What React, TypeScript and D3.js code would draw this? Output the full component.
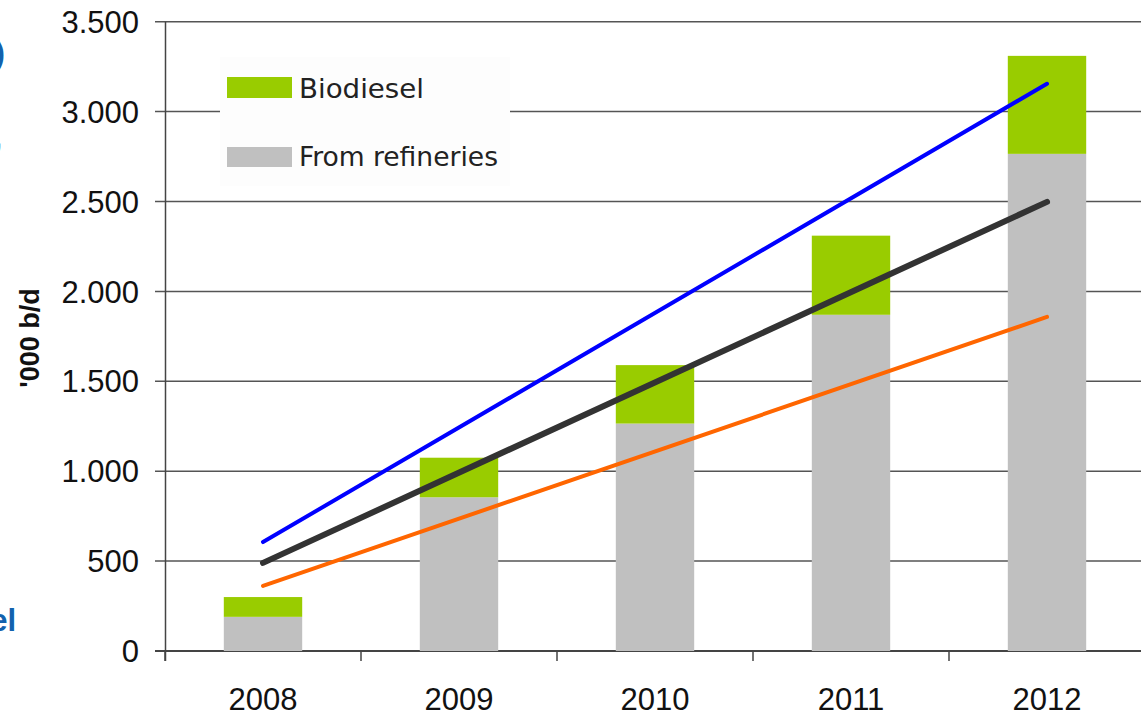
import React from "react";
import * as d3 from "d3";

const years = ["2008", "2009", "2010", "2011", "2012"];
const refineries = [190, 855, 1265, 1870, 2765];
const biodiesel = [110, 220, 325, 440, 545];
const yTicks = [0, 500, 1000, 1500, 2000, 2500, 3000, 3500];
const trendYears = ["2008", "2012"];
const trendBlue = [606, 3155];
const trendBlack = [490, 2498];
const trendOrange = [362, 1858];

const W = 1141;
const H = 714;

export default function App() {
  const x = d3.scaleBand<string>().domain(years).range([165, 1145]).paddingInner(0.6).paddingOuter(0.3);
  const y = d3.scaleLinear().domain([0, 3500]).range([651, 21.7]);
  const step = x.step();
  const boundaries = years.map((yr) => (x(yr) as number) - x.paddingOuter() * step);
  const fmt = (v: number) => d3.format(",")(v).replace(/,/g, ".");
  const cx = (yr: string) => (x(yr) as number) + x.bandwidth() / 2;
  const lineGen = d3
    .line<[string, number]>()
    .x((d) => cx(d[0]))
    .y((d) => y(d[1]));
  const trends = [
    { vals: trendOrange, color: "#FF6600", w: 4 },
    { vals: trendBlack, color: "#333333", w: 6 },
    { vals: trendBlue, color: "#0000FF", w: 4 },
  ];
  return (
    <div style={{ position: "absolute", left: 0, top: 0 }}>
      <svg width={W} height={H} style={{ display: "block", background: "#fff" }}>
        {/* cut-off text from slide */}
        <g fill="#1262AE" fontFamily="Liberation Sans, Arial, sans-serif" fontWeight="bold">
          <text x={5} y={64} fontSize={34} textAnchor="end">)</text>
          <text x={2} y={148} fontSize={30} textAnchor="end">,</text>
          <text x={16} y={631} fontSize={31} textAnchor="end">el</text>
        </g>
        {/* grid */}
        {yTicks.map((t) => (
          <line key={t} x1={155} x2={W} y1={y(t)} y2={y(t)} stroke={t === 0 ? "#444" : "#555"} strokeWidth={t === 0 ? 2 : 1.5} />
        ))}
        {/* y axis */}
        <line x1={165.5} x2={165.5} y1={y(3500)} y2={661} stroke="#444" strokeWidth={1.5} />
        {boundaries.map((b, i) => (
          <line key={i} x1={b} x2={b} y1={651} y2={661} stroke="#444" strokeWidth={1.5} />
        ))}
        {/* tick labels */}
        <g fontFamily="Liberation Sans, Arial, sans-serif" fontSize={31} fill="#111">
          {yTicks.map((t) => (
            <text key={t} x={139} y={y(t)} dy="0.36em" textAnchor="end">{fmt(t)}</text>
          ))}
          {years.map((yr) => (
            <text key={yr} x={cx(yr)} y={710} textAnchor="middle">{yr}</text>
          ))}
        </g>
        <text
          transform={`translate(39,338) rotate(-90)`}
          textAnchor="middle"
          fontFamily="Liberation Sans, Arial, sans-serif"
          fontWeight="bold"
          fontSize={27}
          fill="#111"
        >
          '000 b/d
        </text>
        {/* bars */}
        {years.map((yr, i) => (
          <g key={yr}>
            <rect x={x(yr)} width={x.bandwidth()} y={y(refineries[i])} height={y(0) - y(refineries[i])} fill="#C0C0C0" />
            <rect
              x={x(yr)}
              width={x.bandwidth()}
              y={y(refineries[i] + biodiesel[i])}
              height={y(refineries[i]) - y(refineries[i] + biodiesel[i])}
              fill="#99CC00"
            />
          </g>
        ))}
        {/* legend */}
        <rect x={220} y={57} width={290} height={129} fill="#FDFDFD" />
        <rect x={227} y={77} width={65} height={21} fill="#99CC00" />
        <rect x={227} y={147} width={65} height={20} fill="#C0C0C0" />
        <g fontFamily="DejaVu Sans Condensed, DejaVu Sans, sans-serif" fontSize={27} fill="#222">
          <text x={299} y={98} textLength={125} lengthAdjust="spacingAndGlyphs">Biodiesel</text>
          <text x={299} y={166} textLength={199} lengthAdjust="spacingAndGlyphs">From refineries</text>
        </g>
        {/* trend lines */}
        {trends.map((t, i) => (
          <path
            key={i}
            d={lineGen(trendYears.map((yr, j) => [yr, t.vals[j]] as [string, number])) || ""}
            fill="none"
            stroke={t.color}
            strokeWidth={t.w}
            strokeLinecap="round"
          />
        ))}
      </svg>
    </div>
  );
}
